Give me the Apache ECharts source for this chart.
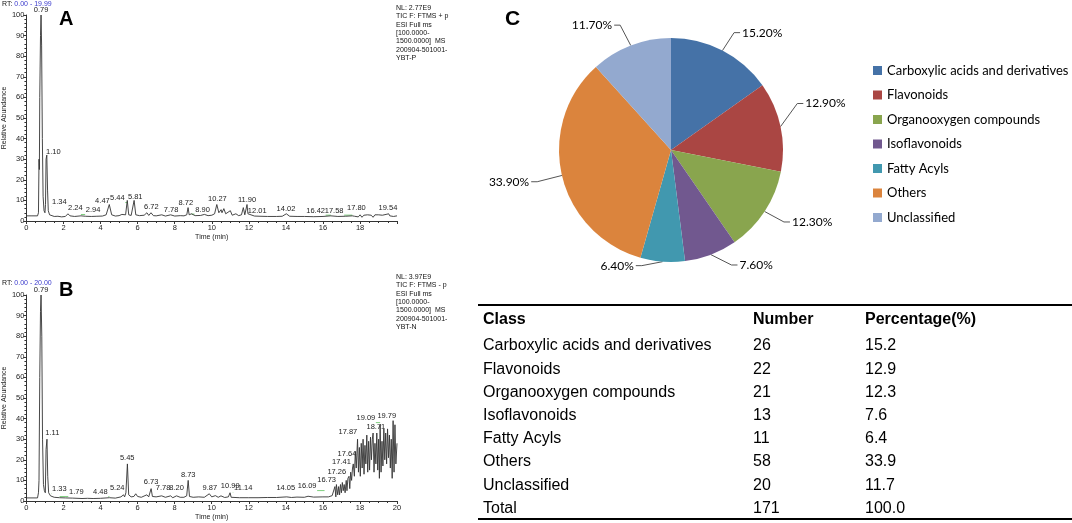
<!DOCTYPE html>
<html><head><meta charset="utf-8">
<script src="https://cdn.jsdelivr.net/npm/echarts@6/dist/echarts.min.js"></script>
<style>html,body{margin:0;padding:0;background:#fff}#c{width:1072px;height:523px}</style>
</head><body><div id="c"></div>
<script>
// ---------- data ----------
const classes = ['Carboxylic acids and derivatives','Flavonoids','Organooxygen compounds','Isoflavonoids','Fatty Acyls','Others','Unclassified'];
const counts = [26,22,21,13,11,58,20];
const percents = [15.2,12.9,12.3,7.6,6.4,33.9,11.7];
const totalCount = 171;
const totalPercent = 100.0;
const tableHeader = ['Class','Number','Percentage(%)'];
const pieColors = ['#4572A7','#AA4643','#89A54E','#71588F','#4198AF','#DB843D','#93A9CF'];

const infoA = ['NL: 2.77E9','TIC F: FTMS + p','ESI Full ms','[100.0000-','1500.0000]  MS','200904-501001-','YBT-P'];
const infoB = ['NL: 3.97E9','TIC F: FTMS - p','ESI Full ms','[100.0000-','1500.0000]  MS','200904-501001-','YBT-N'];
const rtA = ['0.00','19.99'];
const rtB = ['0.00','20.00'];

// chromatogram A: [time, relative abundance]
const ticA = [[0,2.5],[0.3,2.5],[0.6,2.5],[0.65,4],[0.68,30],[0.70,25],[0.72,60],[0.76,90],[0.79,100],[0.82,85],[0.86,40],[0.90,12],[0.95,5],[1.00,4],[1.03,8],[1.06,30],[1.10,32],[1.14,15],[1.18,5],[1.25,3],[1.34,2.5],[1.5,2.2],[1.7,2.3],[1.9,2],[2.1,2.2],[2.24,3.5],[2.35,2.5],[2.6,2.2],[2.94,2.5],[3.2,2.3],[3.5,2.2],[3.8,2.3],[4.1,2.4],[4.3,3],[4.47,8],[4.6,3],[4.8,2.4],[5.0,2.6],[5.15,3.2],[5.25,3.8],[5.35,3],[5.44,10],[5.52,3],[5.65,2.7],[5.81,10],[5.9,3],[6.1,2.6],[6.35,2.8],[6.5,4],[6.6,2.7],[6.72,4],[6.85,2.6],[7.0,2.5],[7.3,3],[7.5,2.4],[7.78,3],[8.0,2.4],[8.3,2.6],[8.5,2.5],[8.65,3],[8.72,6.5],[8.78,3],[8.90,3.5],[9.1,2.6],[9.4,2.7],[9.6,3.2],[9.8,2.6],[10.0,2.8],[10.15,3.5],[10.27,8],[10.38,4],[10.5,5.5],[10.55,4],[10.65,6],[10.75,3.5],[10.85,3],[11.0,5],[11.1,2.8],[11.3,3.5],[11.45,2.6],[11.6,3],[11.7,6.5],[11.78,3],[11.90,8],[11.95,3.5],[12.01,3],[12.3,2.4],[12.6,2.3],[13.0,2.2],[13.5,2.2],[13.8,2.3],[14.02,3.5],[14.2,2.3],[14.6,2.2],[15.0,2.2],[15.5,2.1],[16.0,2.2],[16.42,2.5],[16.8,2.2],[17.2,2.3],[17.58,2.5],[17.7,2.3],[17.80,3],[17.9,2],[18.0,3],[18.1,1.8],[18.2,2.8],[18.3,2],[18.4,3],[18.5,2.2],[18.6,2.8],[18.7,1.8],[18.8,3],[18.9,2.2],[19.0,3],[19.1,2.1],[19.2,2.8],[19.3,2.3],[19.4,3.2],[19.54,3.5],[19.6,2.5],[19.7,3.2],[19.8,2.2],[19.9,3],[19.99,2.5]];

// chromatogram B
const ticB = [[0,1.5],[0.3,1.5],[0.6,1.5],[0.65,4],[0.68,10],[0.72,60],[0.76,92],[0.79,100],[0.83,80],[0.87,30],[0.92,8],[0.97,5],[1.02,4],[1.06,25],[1.11,30],[1.15,12],[1.2,4],[1.3,2.5],[1.33,2],[1.5,1.8],[1.79,1.6],[2.1,1.5],[2.5,1.4],[3.0,1.2],[3.3,1.3],[3.6,1.2],[4.0,1.3],[4.48,1.6],[4.8,1.4],[5.1,2],[5.24,3],[5.3,2],[5.37,4],[5.45,18],[5.52,3],[5.65,2],[5.8,2.2],[5.9,3.5],[6.0,2.2],[6.1,2.8],[6.2,1.8],[6.5,3],[6.6,2],[6.73,6],[6.8,2.2],[7.0,2],[7.3,2.5],[7.5,1.8],[7.78,2.5],[7.9,1.6],[8.1,2.5],[8.20,2.5],[8.3,1.8],[8.5,1.8],[8.65,2.5],[8.73,10],[8.8,2.2],[9.0,1.8],[9.3,2],[9.6,1.8],[9.87,3.5],[10.0,2],[10.2,2.6],[10.35,1.8],[10.5,2.5],[10.7,1.7],[10.9,2],[10.99,4],[11.05,1.8],[11.14,2],[11.5,1.6],[12.0,1.6],[12.5,1.6],[13.0,1.7],[13.5,1.7],[14.05,2],[14.3,1.7],[14.6,1.9],[15.0,1.8],[15.2,2.3],[15.5,1.9],[16.0,2],[16.09,2.5],[16.3,2],[16.5,2.6],
[16.6,3],[16.65,7],[16.7,2],[16.73,8],[16.8,3],[16.85,7],[16.9,3],[16.95,8],[17.0,4],[17.05,9],[17.1,5],[17.15,8],[17.2,4],[17.26,10],[17.3,5],[17.35,11],[17.41,12],[17.45,6],[17.5,14],[17.55,10],[17.6,16],[17.64,18],[17.7,12],[17.75,24],[17.8,16],[17.87,30],[17.92,14],[17.97,26],[18.02,12],[18.07,28],[18.12,16],[18.17,30],[18.22,13],[18.27,27],[18.32,18],[18.37,32],[18.42,14],[18.47,29],[18.52,15],[18.57,31],[18.62,20],[18.67,30],[18.71,33],[18.76,14],[18.81,28],[18.86,18],[18.91,33],[18.96,15],[19.01,30],[19.05,11],[19.09,37],[19.14,14],[19.19,29],[19.24,17],[19.29,35],[19.34,20],[19.39,33],[19.44,18],[19.49,35],[19.54,21],[19.59,32],[19.64,16],[19.69,30],[19.74,11],[19.79,39],[19.84,14],[19.89,37],[19.94,18],[20.0,28]];

// peak annotations: [peak time, label x (min), label y (abundance)]
const peaksA = [[0.79,0.79,100.5],[1.10,1.45,31.5],[1.34,1.78,7.3],[2.24,2.64,4.4],[2.94,3.6,3.4],[4.47,4.1,7.8],[5.44,4.9,9.2],[5.81,5.87,9.7],[6.72,6.74,4.9],[7.78,7.8,3.4],[8.72,8.6,6.8],[8.90,9.5,3.6],[10.27,10.3,8.7],[11.90,11.9,8.3],[12.01,12.45,2.9],[14.02,14.0,3.9],[16.42,15.6,3.1],[17.58,16.6,3.1],[17.80,17.8,4.3],[19.54,19.5,4.3]];
const peaksB = [[0.79,0.79,100.5],[1.11,1.40,31],[1.33,1.78,3.9],[1.79,2.69,2.4],[4.48,3.99,2.4],[5.24,4.9,4.4],[5.45,5.44,19],[6.73,6.73,7.3],[7.78,7.38,4.4],[8.20,8.1,4.4],[8.73,8.73,10.7],[9.87,9.9,4.4],[10.99,11.0,5.3],[11.14,11.7,4.4],[14.05,14.0,4.4],[16.09,15.15,5.3],[16.73,16.2,8.3],[17.26,16.75,12],[17.41,17.0,17],[17.64,17.3,21],[17.87,17.35,31.5],[18.71,18.86,34],[19.09,18.32,38.3],[19.79,19.45,39.3]];

// ---------- chart ----------
const chart = echarts.init(document.getElementById('c'), null, {renderer:'canvas'});
const smallFont = 'Liberation Sans';
const axisCol = '#333';

function xAx(gi, max, showMax){
  return {gridIndex:gi, type:'value', min:0, max:max, interval:2,
    name:'Time (min)', nameLocation:'middle', nameGap:13,
    nameTextStyle:{fontSize:7, color:'#222', fontFamily:smallFont},
    axisLine:{lineStyle:{color:axisCol, width:1}},
    axisTick:{length:3, lineStyle:{color:axisCol}},
    minorTick:{show:true, splitNumber:4, length:2, lineStyle:{color:axisCol}},
    axisLabel:{fontSize:7.5, color:'#222', margin:3, fontFamily:smallFont, showMaxLabel:showMax},
    splitLine:{show:false}};
}
function yAx(gi){
  return {gridIndex:gi, type:'value', min:0, max:100, interval:10,
    name:'Relative Abundance', nameLocation:'middle', nameGap:14, nameRotate:90,
    nameTextStyle:{fontSize:7, color:'#222', fontFamily:smallFont},
    axisLine:{show:true, lineStyle:{color:axisCol, width:1}},
    axisTick:{show:true, length:3, lineStyle:{color:axisCol}},
    minorTick:{show:true, splitNumber:5, length:2, lineStyle:{color:axisCol}},
    axisLabel:{fontSize:7.5, color:'#222', margin:2, fontFamily:smallFont},
    splitLine:{show:false}};
}
function peakSeries(gi, peaks){
  return {type:'custom', xAxisIndex:gi, yAxisIndex:gi, silent:true, clip:false,
    data: peaks,
    renderItem: function(params, api){
      const t = api.value(0), lx = api.value(1), ly = api.value(2);
      const p = api.coord([lx, ly]);
      const pk = api.coord([t, ly]);
      const txt = t.toFixed(2);
      const hw = txt.length * 2;
      const children = [];
      if (Math.abs(pk[0]-p[0]) > hw) {
        const ex = pk[0] > p[0] ? p[0]+hw : p[0]-hw;
        children.push({type:'line', shape:{x1:ex, y1:p[1]+0.5, x2:pk[0], y2:p[1]+0.5},
          style:{stroke:'#7fcf7f', lineWidth:1}});
      }
      children.push({type:'text', x:p[0], y:p[1],
        style:{text:txt, fontSize:7.5, fontFamily:smallFont, fill:'#222', align:'center', verticalAlign:'bottom'}});
      return {type:'group', children:children};
    }};
}

// pie geometry and label nudges (px) to mimic the reference's best-fit placement
const pieCenter = [671,150], pieR = 112;
const pieLabelShift = [[2,-9],[2,-21],[6,5],[12,1],[-15,-6],[-10,4],[-2,-11]];

const tableX = [483, 753, 865];
const rowY0 = 346, rowStep = 23.2;
const tableEls = [];
tableEls.push({type:'line', shape:{x1:478,y1:305,x2:1072,y2:305}, style:{stroke:'#000', lineWidth:2}});
tableEls.push({type:'line', shape:{x1:478,y1:519,x2:1072,y2:519}, style:{stroke:'#000', lineWidth:2}});
tableHeader.forEach((h,i)=>tableEls.push({type:'text', x:tableX[i], y:320,
  style:{text:h, font:'bold 16px "Liberation Sans"', fill:'#000', verticalAlign:'middle'}}));
const rows = classes.map((c,i)=>[c, String(counts[i]), percents[i].toFixed(1)]);
rows.push(['Total', String(totalCount), totalPercent.toFixed(1)]);
rows.forEach((r,ri)=>r.forEach((cell,ci)=>tableEls.push({type:'text', x:tableX[ci], y:rowY0+ri*rowStep,
  style:{text:cell, font:'16px "Liberation Sans"', fill:'#000', verticalAlign:'middle'}})));

function infoBlock(lines, y){
  return {type:'text', x:396, y:y, style:{text:lines.join('\n'), font:'7px "Liberation Sans"', lineHeight:8.3, fill:'#111'}};
}
function rtText(rt, y){
  return {type:'text', x:2, y:y, style:{text:'{k|RT: }{v|'+rt[0]+' - '+rt[1]+'}',
    rich:{k:{fontSize:7, fontFamily:smallFont, fill:'#111'}, v:{fontSize:7, fontFamily:smallFont, fill:'#3a3acc'}}}};
}

function pieLabelLayout(params){
  const i = params.dataIndex;
  const s = pieLabelShift[i] || [0,0];
  const total = percents.reduce((a,b)=>a+b,0);
  let cum = 0; for (let k=0;k<i;k++) cum += percents[k];
  const mid = (cum + percents[i]/2)/total;
  const ang = Math.PI/2 - mid*2*Math.PI;
  const start = [pieCenter[0] + pieR*Math.cos(ang), pieCenter[1] - pieR*Math.sin(ang)];
  const r = params.labelRect;
  const nx = r.x + s[0], ny = r.y + s[1];
  const cy = ny + r.height/2;
  const right = (nx + r.width/2) > pieCenter[0];
  const end = right ? [nx - 2, cy] : [nx + r.width + 2, cy];
  const bend = right ? [end[0]-6, cy] : [end[0]+6, cy];
  return {dx:s[0], dy:s[1], labelLinePoints:[start, bend, end]};
}

const option = {
  animation:false,
  backgroundColor:'#fff',
  grid:[{left:26, top:15, width:371, height:206}, {left:26, top:295, width:371, height:206}],
  xAxis:[xAx(0,19.99,false), xAx(1,20,true)],
  yAxis:[yAx(0), yAx(1)],
  legend:{orient:'vertical', left:873, top:64, padding:0, itemWidth:9, itemHeight:9, itemGap:11.5,
    icon:'rect', data:classes,
    textStyle:{fontFamily:'Lato', fontSize:13, color:'#000'}},
  series:[
    {type:'line', xAxisIndex:0, yAxisIndex:0, data:ticA, showSymbol:false, silent:true,
      lineStyle:{color:'#333', width:0.9}},
    peakSeries(0, peaksA),
    {type:'line', xAxisIndex:1, yAxisIndex:1, data:ticB, showSymbol:false, silent:true,
      lineStyle:{color:'#333', width:0.9}},
    peakSeries(1, peaksB),
    {type:'pie', center:pieCenter, radius:pieR, startAngle:90, clockwise:true,
      data: classes.map((c,i)=>({name:c, value:percents[i], itemStyle:{color:pieColors[i]}})),
      label:{show:true, formatter:p=>p.value.toFixed(2)+'%', fontFamily:'Lato', fontSize:12, color:'#000'},
      labelLine:{show:true, length:10, length2:8, lineStyle:{color:'#555', width:1}},
      labelLayout: pieLabelLayout,
      itemStyle:{borderWidth:0}, silent:true}
  ],
  graphic:[
    {type:'text', x:59, y:9, style:{text:'A', font:'bold 20px "Liberation Sans"', fill:'#000'}},
    {type:'text', x:59, y:280, style:{text:'B', font:'bold 20px "Liberation Sans"', fill:'#000'}},
    {type:'text', x:505, y:9, style:{text:'C', font:'bold 21px "Liberation Sans"', fill:'#000'}},
    rtText(rtA, 1), rtText(rtB, 280),
    infoBlock(infoA, 4), infoBlock(infoB, 273)
  ].concat(tableEls)
};
chart.setOption(option);
</script></body></html>
